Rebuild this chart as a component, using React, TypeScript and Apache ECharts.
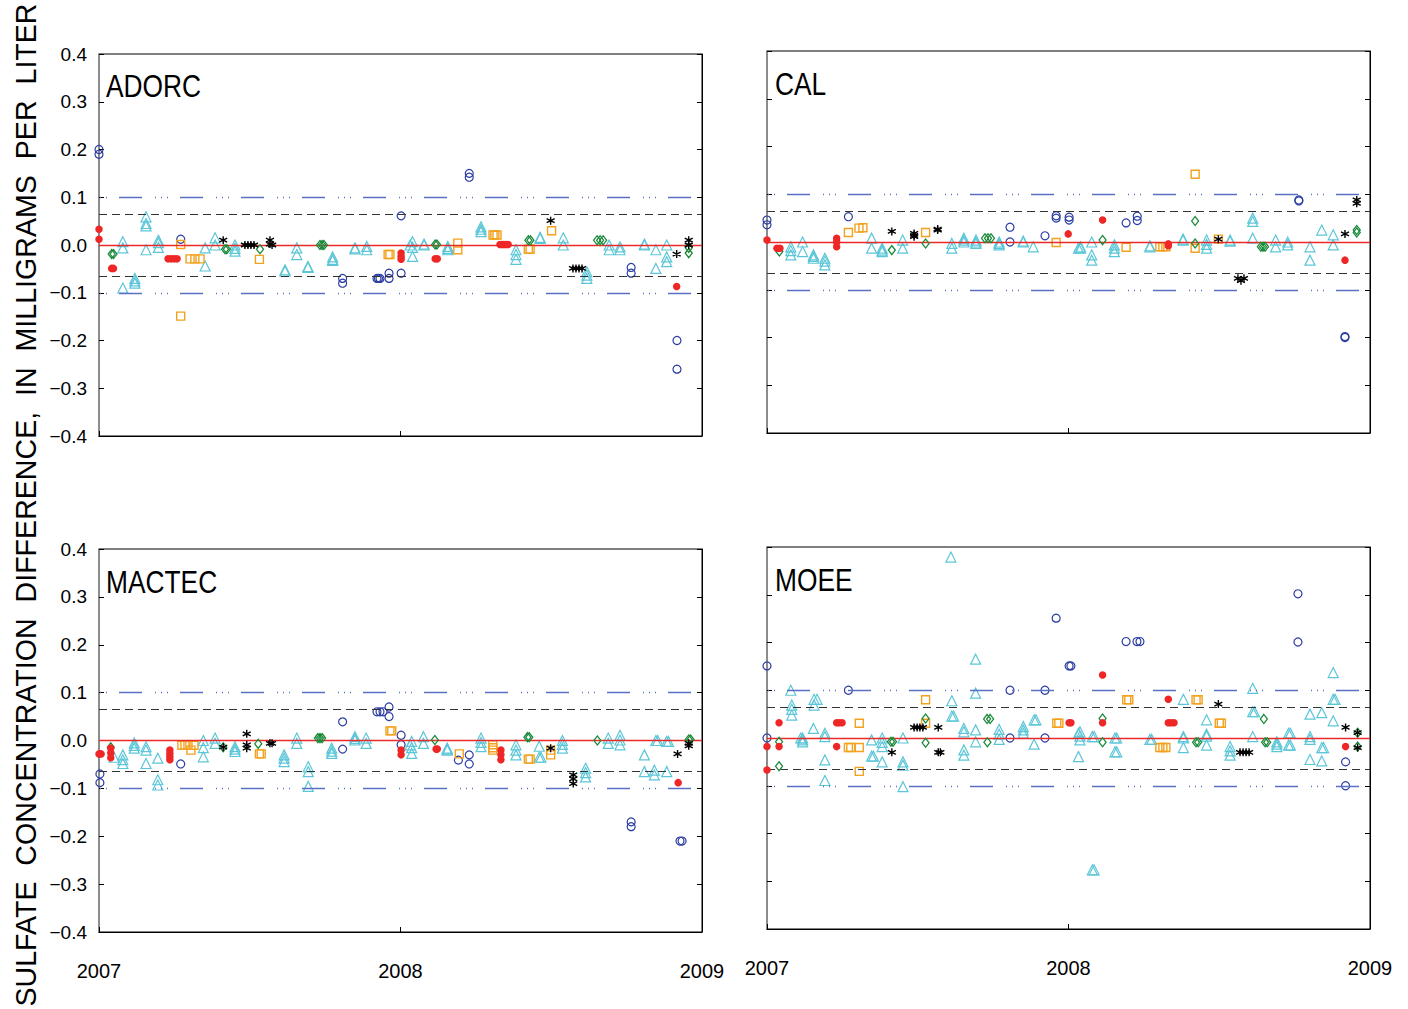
import React, { useEffect, useRef } from "react";
import * as echarts from "echarts";

// ---------------- data ----------------
const panelNames = ["ADORC", "CAL", "MACTEC", "MOEE"];
const xTickLabels = ["2007", "2008", "2009"];
const yTickLabels = ["\u22120.4", "\u22120.3", "\u22120.2", "\u22120.1", "0.0", "0.1", "0.2", "0.3", "0.4"];
const yAxisTitle = "SULFATE  CONCENTRATION  DIFFERENCE,  IN  MILLIGRAMS  PER  LITER";
const outerLimit = 0.1;
const innerLimit = 0.065;
const zeroLevel = 0;

// ADORC
const adorcCircle = [[2007.0,0.2],[2007.0,0.19],[2007.271,0.012],[2007.808,-0.07],[2007.808,-0.08],[2007.922,-0.07],[2007.927,-0.07],[2007.932,-0.07],[2007.962,-0.059],[2007.962,-0.07],[2008.002,0.061],[2008.002,-0.059],[2008.228,0.15],[2008.228,0.142],[2008.765,-0.047],[2008.765,-0.059],[2008.917,-0.2],[2008.917,-0.26]];
const adorcTriangle = [[2007.079,0.007],[2007.079,-0.006],[2007.079,-0.09],[2007.119,-0.07],[2007.119,-0.075],[2007.119,-0.08],[2007.156,0.059],[2007.156,0.045],[2007.156,0.04],[2007.156,-0.01],[2007.197,0.01],[2007.197,0.005],[2007.197,-0.005],[2007.352,-0.006],[2007.352,-0.044],[2007.385,0.015],[2007.385,0.0],[2007.451,0.0],[2007.451,-0.007],[2007.451,-0.013],[2007.617,-0.052],[2007.617,-0.055],[2007.656,-0.006],[2007.656,-0.02],[2007.693,-0.045],[2007.693,-0.047],[2007.775,-0.025],[2007.775,-0.03],[2007.775,-0.032],[2007.849,-0.006],[2007.849,-0.008],[2007.888,-0.003],[2007.888,-0.01],[2008.032,0.0],[2008.040,0.007],[2008.040,-0.005],[2008.040,-0.024],[2008.078,0.0],[2008.078,0.002],[2008.157,-0.003],[2008.157,-0.007],[2008.157,-0.01],[2008.267,0.038],[2008.267,0.033],[2008.267,0.028],[2008.383,-0.01],[2008.383,-0.02],[2008.383,-0.03],[2008.463,0.014],[2008.463,0.016],[2008.540,0.015],[2008.540,0.0],[2008.618,-0.056],[2008.618,-0.063],[2008.618,-0.07],[2008.692,0.0],[2008.692,-0.01],[2008.728,-0.004],[2008.728,-0.01],[2008.809,0.0],[2008.809,0.002],[2008.847,-0.01],[2008.847,-0.049],[2008.883,0.0],[2008.883,-0.025],[2008.883,-0.035]];
const adorcSquare = [[2007.271,0.001],[2007.271,-0.149],[2007.302,-0.029],[2007.318,-0.029],[2007.335,-0.029],[2007.532,-0.03],[2007.959,-0.02],[2007.965,-0.02],[2008.190,0.004],[2008.190,-0.01],[2008.307,0.021],[2008.313,0.021],[2008.320,0.021],[2008.424,-0.009],[2008.430,-0.009],[2008.501,0.03]];
const adorcDiamond = [[2007.042,-0.019],[2007.048,-0.019],[2007.418,-0.009],[2007.424,-0.009],[2007.534,-0.009],[2007.733,0.0],[2007.740,0.0],[2007.746,0.0],[2008.115,0.001],[2008.121,0.001],[2008.424,0.01],[2008.431,0.01],[2008.652,0.01],[2008.662,0.01],[2008.672,0.01],[2008.956,-0.006],[2008.956,-0.017]];
const adorcDot = [[2007.0,0.033],[2007.0,0.012],[2007.042,-0.049],[2007.048,-0.049],[2007.229,-0.029],[2007.239,-0.029],[2007.249,-0.029],[2007.259,-0.029],[2008.002,-0.017],[2008.002,-0.024],[2008.002,-0.03],[2008.115,-0.029],[2008.122,-0.029],[2008.330,0.001],[2008.337,0.001],[2008.343,0.001],[2008.350,0.001],[2008.357,0.001],[2008.916,-0.087]];
const adorcStar = [[2007.412,0.01],[2007.484,0.0],[2007.494,0.0],[2007.504,0.0],[2007.514,0.0],[2007.567,0.01],[2007.567,0.002],[2007.574,0.0],[2008.498,0.051],[2008.572,-0.049],[2008.582,-0.049],[2008.592,-0.049],[2008.602,-0.049],[2008.916,-0.019],[2008.956,0.01],[2008.956,0.0]];

// CAL
const calCircle = [[2007.0,0.046],[2007.0,0.036],[2007.270,0.053],[2007.806,0.031],[2007.806,0.0],[2007.922,0.013],[2007.959,0.055],[2007.959,0.05],[2008.002,0.052],[2008.002,0.046],[2008.191,0.04],[2008.228,0.054],[2008.228,0.045],[2008.764,0.088],[2008.764,0.086],[2008.917,-0.2],[2008.917,-0.198]];
const calTriangle = [[2007.079,-0.01],[2007.079,-0.018],[2007.079,-0.027],[2007.118,0.0],[2007.118,-0.02],[2007.154,-0.027],[2007.154,-0.03],[2007.154,-0.034],[2007.192,-0.034],[2007.192,-0.04],[2007.192,-0.048],[2007.347,0.008],[2007.347,-0.013],[2007.382,-0.013],[2007.382,-0.017],[2007.382,-0.02],[2007.450,0.004],[2007.450,-0.013],[2007.613,-0.003],[2007.613,-0.013],[2007.653,0.008],[2007.653,0.004],[2007.653,0.0],[2007.693,0.004],[2007.693,0.0],[2007.693,-0.003],[2007.770,0.0],[2007.770,-0.003],[2007.770,-0.006],[2007.850,0.0],[2007.850,0.002],[2007.883,-0.01],[2008.033,-0.013],[2008.040,-0.01],[2008.040,-0.013],[2008.077,0.0],[2008.077,-0.027],[2008.077,-0.038],[2008.152,-0.006],[2008.152,-0.013],[2008.152,-0.02],[2008.270,-0.01],[2008.270,-0.008],[2008.380,0.004],[2008.380,0.006],[2008.458,0.004],[2008.458,-0.005],[2008.458,-0.013],[2008.536,0.004],[2008.536,0.002],[2008.611,0.05],[2008.611,0.043],[2008.611,0.008],[2008.687,0.004],[2008.687,-0.01],[2008.727,0.0],[2008.727,-0.006],[2008.801,-0.01],[2008.801,-0.038],[2008.840,0.025],[2008.878,0.015],[2008.878,-0.006]];
const calSquare = [[2007.270,0.02],[2007.305,0.029],[2007.318,0.03],[2007.526,0.02],[2007.959,-0.001],[2008.191,-0.011],[2008.303,-0.01],[2008.313,-0.01],[2008.323,-0.01],[2008.420,0.142],[2008.420,-0.013],[2008.497,0.006]];
const calDiamond = [[2007.041,-0.02],[2007.414,-0.017],[2007.526,-0.003],[2007.723,0.008],[2007.733,0.008],[2007.743,0.008],[2008.113,0.004],[2008.420,0.044],[2008.420,-0.003],[2008.638,-0.01],[2008.645,-0.01],[2008.652,-0.01],[2008.956,0.02],[2008.956,0.025]];
const calDot = [[2007.0,0.004],[2007.033,-0.013],[2007.043,-0.013],[2007.231,0.008],[2007.231,0.0],[2007.231,-0.01],[2007.999,0.017],[2008.113,0.046],[2008.331,-0.008],[2008.331,-0.004],[2008.917,-0.038]];
const calStar = [[2007.414,0.022],[2007.488,0.018],[2007.488,0.011],[2007.488,0.014],[2007.566,0.027],[2007.566,0.025],[2008.497,0.006],[2008.562,-0.076],[2008.572,-0.081],[2008.582,-0.076],[2008.917,0.017],[2008.956,0.088],[2008.956,0.081]];

// MACTEC
const mactecCircle = [[2007.003,-0.07],[2007.003,-0.088],[2007.271,-0.049],[2007.808,0.039],[2007.808,-0.018],[2007.922,0.06],[2007.932,0.06],[2007.942,0.06],[2007.962,0.07],[2007.962,0.05],[2008.002,0.011],[2008.002,-0.009],[2008.192,-0.041],[2008.228,-0.03],[2008.228,-0.049],[2008.765,-0.17],[2008.765,-0.18],[2008.927,-0.21],[2008.934,-0.21]];
const mactecTriangle = [[2007.050,-0.035],[2007.079,-0.03],[2007.079,-0.04],[2007.079,-0.048],[2007.117,-0.005],[2007.117,-0.01],[2007.117,-0.016],[2007.156,-0.013],[2007.156,-0.02],[2007.156,-0.048],[2007.195,-0.037],[2007.195,-0.082],[2007.195,-0.093],[2007.346,0.0],[2007.346,-0.015],[2007.346,-0.034],[2007.385,0.005],[2007.385,-0.006],[2007.451,-0.013],[2007.451,-0.018],[2007.451,-0.023],[2007.614,-0.03],[2007.614,-0.037],[2007.614,-0.044],[2007.656,0.005],[2007.656,-0.006],[2007.694,-0.055],[2007.694,-0.065],[2007.694,-0.096],[2007.772,-0.016],[2007.772,-0.022],[2007.772,-0.027],[2007.849,0.008],[2007.849,0.004],[2007.849,0.001],[2007.886,0.005],[2007.886,-0.006],[2008.032,-0.009],[2008.037,-0.002],[2008.037,-0.015],[2008.037,-0.027],[2008.076,0.008],[2008.076,-0.006],[2008.155,-0.016],[2008.155,-0.018],[2008.155,-0.02],[2008.267,0.005],[2008.267,-0.004],[2008.267,-0.013],[2008.383,-0.009],[2008.383,-0.02],[2008.383,-0.03],[2008.460,-0.012],[2008.460,-0.035],[2008.466,-0.035],[2008.537,0.0],[2008.537,-0.008],[2008.537,-0.016],[2008.614,-0.058],[2008.614,-0.067],[2008.614,-0.076],[2008.689,0.005],[2008.689,-0.006],[2008.728,0.011],[2008.728,0.001],[2008.728,-0.009],[2008.809,-0.03],[2008.809,-0.065],[2008.842,-0.062],[2008.842,-0.072],[2008.847,0.0],[2008.853,0.0],[2008.883,-0.002],[2008.889,-0.002],[2008.883,-0.065]];
const mactecSquare = [[2007.275,-0.01],[2007.285,-0.01],[2007.295,-0.01],[2007.305,-0.02],[2007.315,-0.01],[2007.532,-0.028],[2007.538,-0.028],[2007.965,0.02],[2007.971,0.02],[2008.195,-0.028],[2008.306,-0.009],[2008.306,-0.02],[2008.306,-0.015],[2008.424,-0.039],[2008.430,-0.039],[2008.498,-0.02],[2008.498,-0.03]];
const mactecDiamond = [[2007.039,-0.014],[2007.412,-0.014],[2007.528,-0.007],[2007.726,0.005],[2007.733,0.005],[2007.740,0.005],[2008.114,0.001],[2008.421,0.007],[2008.427,0.007],[2008.653,0.0],[2008.956,0.002],[2008.962,0.002]];
const mactecDot = [[2007.0,-0.028],[2007.007,-0.028],[2007.039,-0.016],[2007.039,-0.026],[2007.039,-0.036],[2007.235,-0.02],[2007.235,-0.027],[2007.235,-0.034],[2007.235,-0.04],[2008.002,-0.02],[2008.002,-0.03],[2008.118,-0.018],[2008.122,-0.018],[2008.333,-0.02],[2008.333,-0.03],[2008.333,-0.04],[2008.921,-0.088]];
const mactecStar = [[2007.412,-0.014],[2007.490,0.014],[2007.490,-0.009],[2007.490,-0.016],[2007.567,-0.006],[2007.574,-0.006],[2008.498,-0.016],[2008.573,-0.072],[2008.573,-0.08],[2008.573,-0.09],[2008.919,-0.028],[2008.956,-0.006],[2008.956,-0.011]];

// MOEE
const moeeCircle = [[2007.0,0.151],[2007.0,0.0],[2007.270,0.1],[2007.806,0.1],[2007.806,0.0],[2007.922,0.1],[2007.922,0.0],[2007.959,0.402],[2007.959,0.251],[2008.002,0.151],[2008.008,0.151],[2008.191,0.202],[2008.227,0.202],[2008.237,0.202],[2008.761,0.302],[2008.761,0.201],[2008.919,-0.05],[2008.919,-0.1]];
const moeeTriangle = [[2007.079,0.1],[2007.082,0.069],[2007.082,0.06],[2007.082,0.048],[2007.118,0.0],[2007.112,0.0],[2007.118,-0.004],[2007.118,-0.008],[2007.156,0.081],[2007.166,0.081],[2007.156,0.069],[2007.154,0.02],[2007.192,0.01],[2007.192,0.003],[2007.192,-0.046],[2007.192,-0.089],[2007.347,-0.004],[2007.347,-0.038],[2007.353,-0.038],[2007.382,0.0],[2007.382,-0.009],[2007.382,-0.018],[2007.382,-0.05],[2007.451,0.0],[2007.451,-0.05],[2007.451,-0.057],[2007.451,-0.102],[2007.610,0.379],[2007.613,0.078],[2007.613,0.046],[2007.619,0.046],[2007.653,0.02],[2007.653,0.013],[2007.653,-0.025],[2007.653,-0.036],[2007.692,0.165],[2007.692,0.094],[2007.692,0.017],[2007.692,-0.008],[2007.770,0.018],[2007.770,0.008],[2007.770,-0.003],[2007.850,0.024],[2007.850,0.017],[2007.850,0.01],[2007.886,0.038],[2007.892,0.038],[2007.886,-0.013],[2008.033,0.01],[2008.033,-0.039],[2008.038,0.013],[2008.038,0.004],[2008.038,-0.004],[2008.079,0.003],[2008.085,0.003],[2008.079,-0.276],[2008.085,-0.276],[2008.154,0.0],[2008.160,0.0],[2008.154,-0.029],[2008.160,-0.029],[2008.270,-0.003],[2008.276,-0.003],[2008.381,0.081],[2008.381,0.0],[2008.381,0.003],[2008.381,-0.02],[2008.458,0.038],[2008.458,0.004],[2008.458,0.008],[2008.458,-0.015],[2008.536,-0.018],[2008.536,-0.027],[2008.536,-0.036],[2008.611,0.104],[2008.611,0.055],[2008.617,0.055],[2008.611,0.003],[2008.691,-0.008],[2008.691,-0.013],[2008.691,-0.018],[2008.730,0.01],[2008.736,0.01],[2008.730,-0.015],[2008.736,-0.015],[2008.801,0.05],[2008.801,0.003],[2008.801,-0.003],[2008.801,-0.045],[2008.840,0.053],[2008.840,-0.02],[2008.846,-0.02],[2008.840,-0.048],[2008.878,0.137],[2008.878,0.081],[2008.884,0.081],[2008.878,0.036]];
const moeeSquare = [[2007.270,-0.02],[2007.278,-0.02],[2007.306,0.031],[2007.306,-0.02],[2007.306,-0.07],[2007.526,0.08],[2007.526,0.031],[2007.961,0.031],[2007.968,0.031],[2008.193,0.08],[2008.200,0.08],[2008.303,-0.02],[2008.313,-0.02],[2008.323,-0.02],[2008.423,0.08],[2008.430,0.08],[2008.500,0.031],[2008.507,0.031]];
const moeeDiamond = [[2007.040,-0.008],[2007.040,-0.059],[2007.411,-0.008],[2007.418,-0.008],[2007.526,0.041],[2007.526,-0.01],[2007.730,0.04],[2007.740,0.04],[2007.731,-0.009],[2008.113,0.041],[2008.113,-0.009],[2008.423,-0.009],[2008.430,-0.009],[2008.648,0.04],[2008.652,-0.009],[2008.659,-0.009],[2008.959,0.011],[2008.959,-0.018]];
const moeeDot = [[2007.0,-0.018],[2007.0,-0.067],[2007.040,0.032],[2007.040,-0.018],[2007.231,0.032],[2007.239,0.032],[2007.249,0.032],[2007.231,-0.018],[2008.002,0.032],[2008.008,0.032],[2008.113,0.132],[2008.113,0.032],[2008.331,0.032],[2008.340,0.032],[2008.350,0.032],[2008.331,0.081],[2008.919,-0.018]];
const moeeStar = [[2007.414,-0.03],[2007.488,0.022],[2007.498,0.022],[2007.507,0.022],[2007.517,0.022],[2007.568,0.022],[2007.568,-0.03],[2007.575,-0.03],[2008.497,0.071],[2008.569,-0.03],[2008.579,-0.03],[2008.589,-0.03],[2008.599,-0.03],[2008.919,0.022],[2008.959,0.011],[2008.959,-0.02]];

const panelData = [
  { circle: adorcCircle, triangle: adorcTriangle, square: adorcSquare, diamond: adorcDiamond, dot: adorcDot, star: adorcStar },
  { circle: calCircle, triangle: calTriangle, square: calSquare, diamond: calDiamond, dot: calDot, star: calStar },
  { circle: mactecCircle, triangle: mactecTriangle, square: mactecSquare, diamond: mactecDiamond, dot: mactecDot, star: mactecStar },
  { circle: moeeCircle, triangle: moeeTriangle, square: moeeSquare, diamond: moeeDiamond, dot: moeeDot, star: moeeStar },
];

// ---------------- styling ----------------
const FONT = '"Liberation Sans", Arial, Helvetica, sans-serif';
const gridBoxes = [
  { left: 99, top: 54, width: 603, height: 382 },
  { left: 767, top: 51, width: 603, height: 382 },
  { left: 99, top: 549, width: 603, height: 383 },
  { left: 767, top: 547, width: 603, height: 382 },
];
const titlePos = [
  { x: 106, y: 86 },
  { x: 775, y: 84 },
  { x: 106, y: 582 },
  { x: 775, y: 580 },
];
const STAR_PATH = "path://M5 0L5 10M0.67 2.5L9.33 7.5M0.67 7.5L9.33 2.5";
const markerStyles: Record<string, any> = {
  triangle: { symbol: "triangle", size: 10, fill: "rgba(0,0,0,0)", stroke: "#5cc6d8", width: 1.2, z: 3 },
  circle: { symbol: "circle", size: 8, fill: "rgba(0,0,0,0)", stroke: "#2c3ea4", width: 1.2, z: 4 },
  square: { symbol: "rect", size: 8, fill: "rgba(0,0,0,0)", stroke: "#f2a21e", width: 1.4, z: 4 },
  diamond: { symbol: "diamond", size: [7, 9], fill: "rgba(0,0,0,0)", stroke: "#1a8a3a", width: 1.3, z: 5 },
  dot: { symbol: "circle", size: 7.5, fill: "#ee2626", stroke: "#ee2626", width: 0, z: 5 },
  star: { symbol: STAR_PATH, size: 8, fill: "rgba(0,0,0,0)", stroke: "#000000", width: 1.4, z: 6 },
};
const markerOrder = ["triangle", "circle", "square", "diamond", "dot", "star"];

function yLabel(v: number): string {
  const idx = Math.round((v + 0.4) * 10);
  return yTickLabels[idx] ?? "";
}
function xLabel(v: number): string {
  const idx = Math.round(v - 2007);
  return xTickLabels[idx] ?? "";
}

export default function App() {
  const ref = useRef<HTMLDivElement>(null);

  useEffect(() => {
    if (!ref.current) return;
    const chart = echarts.init(ref.current, undefined, { renderer: "svg" });

    const grid = gridBoxes.map((g) => ({
      ...g,
      show: true,
      borderColor: "#000",
      borderWidth: 1,
      backgroundColor: "rgba(0,0,0,0)",
      containLabel: false,
    }));

    const xAxis = gridBoxes.map((_, i) => ({
      type: "value",
      gridIndex: i,
      min: 2007,
      max: 2009,
      interval: 1,
      axisLine: { show: true, onZero: false, lineStyle: { color: "#000", width: 1 } },
      axisTick: { show: true, inside: true, length: 5, lineStyle: { color: "#000", width: 1 } },
      axisLabel: {
        show: i >= 2,
        margin: 29,
        fontSize: 20,
        color: "#000",
        fontFamily: FONT,
        showMinLabel: true,
        showMaxLabel: true,
        formatter: (v: number) => xLabel(v),
      },
      splitLine: { show: false },
    }));

    const yAxis: any[] = [];
    gridBoxes.forEach((_, i) => {
      yAxis.push({
        type: "value",
        gridIndex: i,
        position: "left",
        min: -0.4,
        max: 0.4,
        interval: 0.1,
        axisLine: { show: true, onZero: false, lineStyle: { color: "#8c8c8c", width: 2 } },
        axisTick: { show: true, inside: true, length: 5, lineStyle: { color: "#000", width: 1 } },
        axisLabel: {
          show: i % 2 === 0,
          margin: 12,
          fontSize: 19,
          color: "#000",
          fontFamily: FONT,
          showMinLabel: true,
          showMaxLabel: true,
          formatter: (v: number) => yLabel(v),
        },
        splitLine: { show: false },
      });
      yAxis.push({
        type: "value",
        gridIndex: i,
        position: "right",
        min: -0.4,
        max: 0.4,
        interval: 0.1,
        axisLine: { show: true, onZero: false, lineStyle: { color: "#000", width: 1 } },
        axisTick: { show: true, inside: true, length: 5, lineStyle: { color: "#000", width: 1 } },
        axisLabel: { show: false },
        splitLine: { show: false },
      });
    });

    const series: any[] = [];
    panelData.forEach((pd: any, i) => {
      const blue = { color: "#5a70c2", width: 1.3, type: [23, 13, 1, 5, 1, 5, 1, 12], dashOffset: 41 };
      const dashed = { color: "#333333", width: 1.2, type: [8, 5] };
      const red = { color: "#ea2a2a", width: 1.3, type: "solid" };
      series.push({
        type: "line",
        xAxisIndex: i,
        yAxisIndex: i * 2,
        data: [],
        silent: true,
        z: 1,
        markLine: {
          silent: true,
          precision: 4,
          symbol: ["none", "none"],
          label: { show: false },
          emphasis: { disabled: true },
          data: [
            { yAxis: outerLimit, lineStyle: blue },
            { yAxis: -outerLimit, lineStyle: blue },
            { yAxis: innerLimit, lineStyle: dashed },
            { yAxis: -innerLimit, lineStyle: dashed },
            { yAxis: zeroLevel, lineStyle: red },
          ],
        },
      });
      markerOrder.forEach((k) => {
        const m = markerStyles[k];
        series.push({
          type: "scatter",
          xAxisIndex: i,
          yAxisIndex: i * 2,
          data: pd[k],
          symbol: m.symbol,
          symbolSize: m.size,
          silent: true,
          z: m.z,
          itemStyle: { color: m.fill, borderColor: m.stroke, borderWidth: m.width, opacity: 1 },
        });
      });
    });

    const graphic: any[] = [
      {
        type: "text",
        x: 26,
        y: 505,
        rotation: Math.PI / 2,
        style: {
          text: yAxisTitle,
          font: `28.6px ${FONT}`,
          fill: "#000",
          textAlign: "center",
          textVerticalAlign: "middle",
        },
      },
    ];
    panelNames.forEach((name, i) => {
      graphic.push({
        type: "text",
        x: titlePos[i].x,
        y: titlePos[i].y,
        scaleX: 0.85,
        style: {
          text: name,
          font: `31px ${FONT}`,
          fill: "#000",
          textAlign: "left",
          textVerticalAlign: "middle",
        },
      });
    });

    chart.setOption({
      animation: false,
      backgroundColor: "#ffffff",
      textStyle: { fontFamily: FONT },
      grid,
      xAxis,
      yAxis,
      series,
      graphic,
    });

    return () => chart.dispose();
  }, []);

  return (
    <div
      ref={ref}
      style={{ position: "fixed", left: 0, top: 0, width: 1408, height: 1009, background: "#fff" }}
    />
  );
}
